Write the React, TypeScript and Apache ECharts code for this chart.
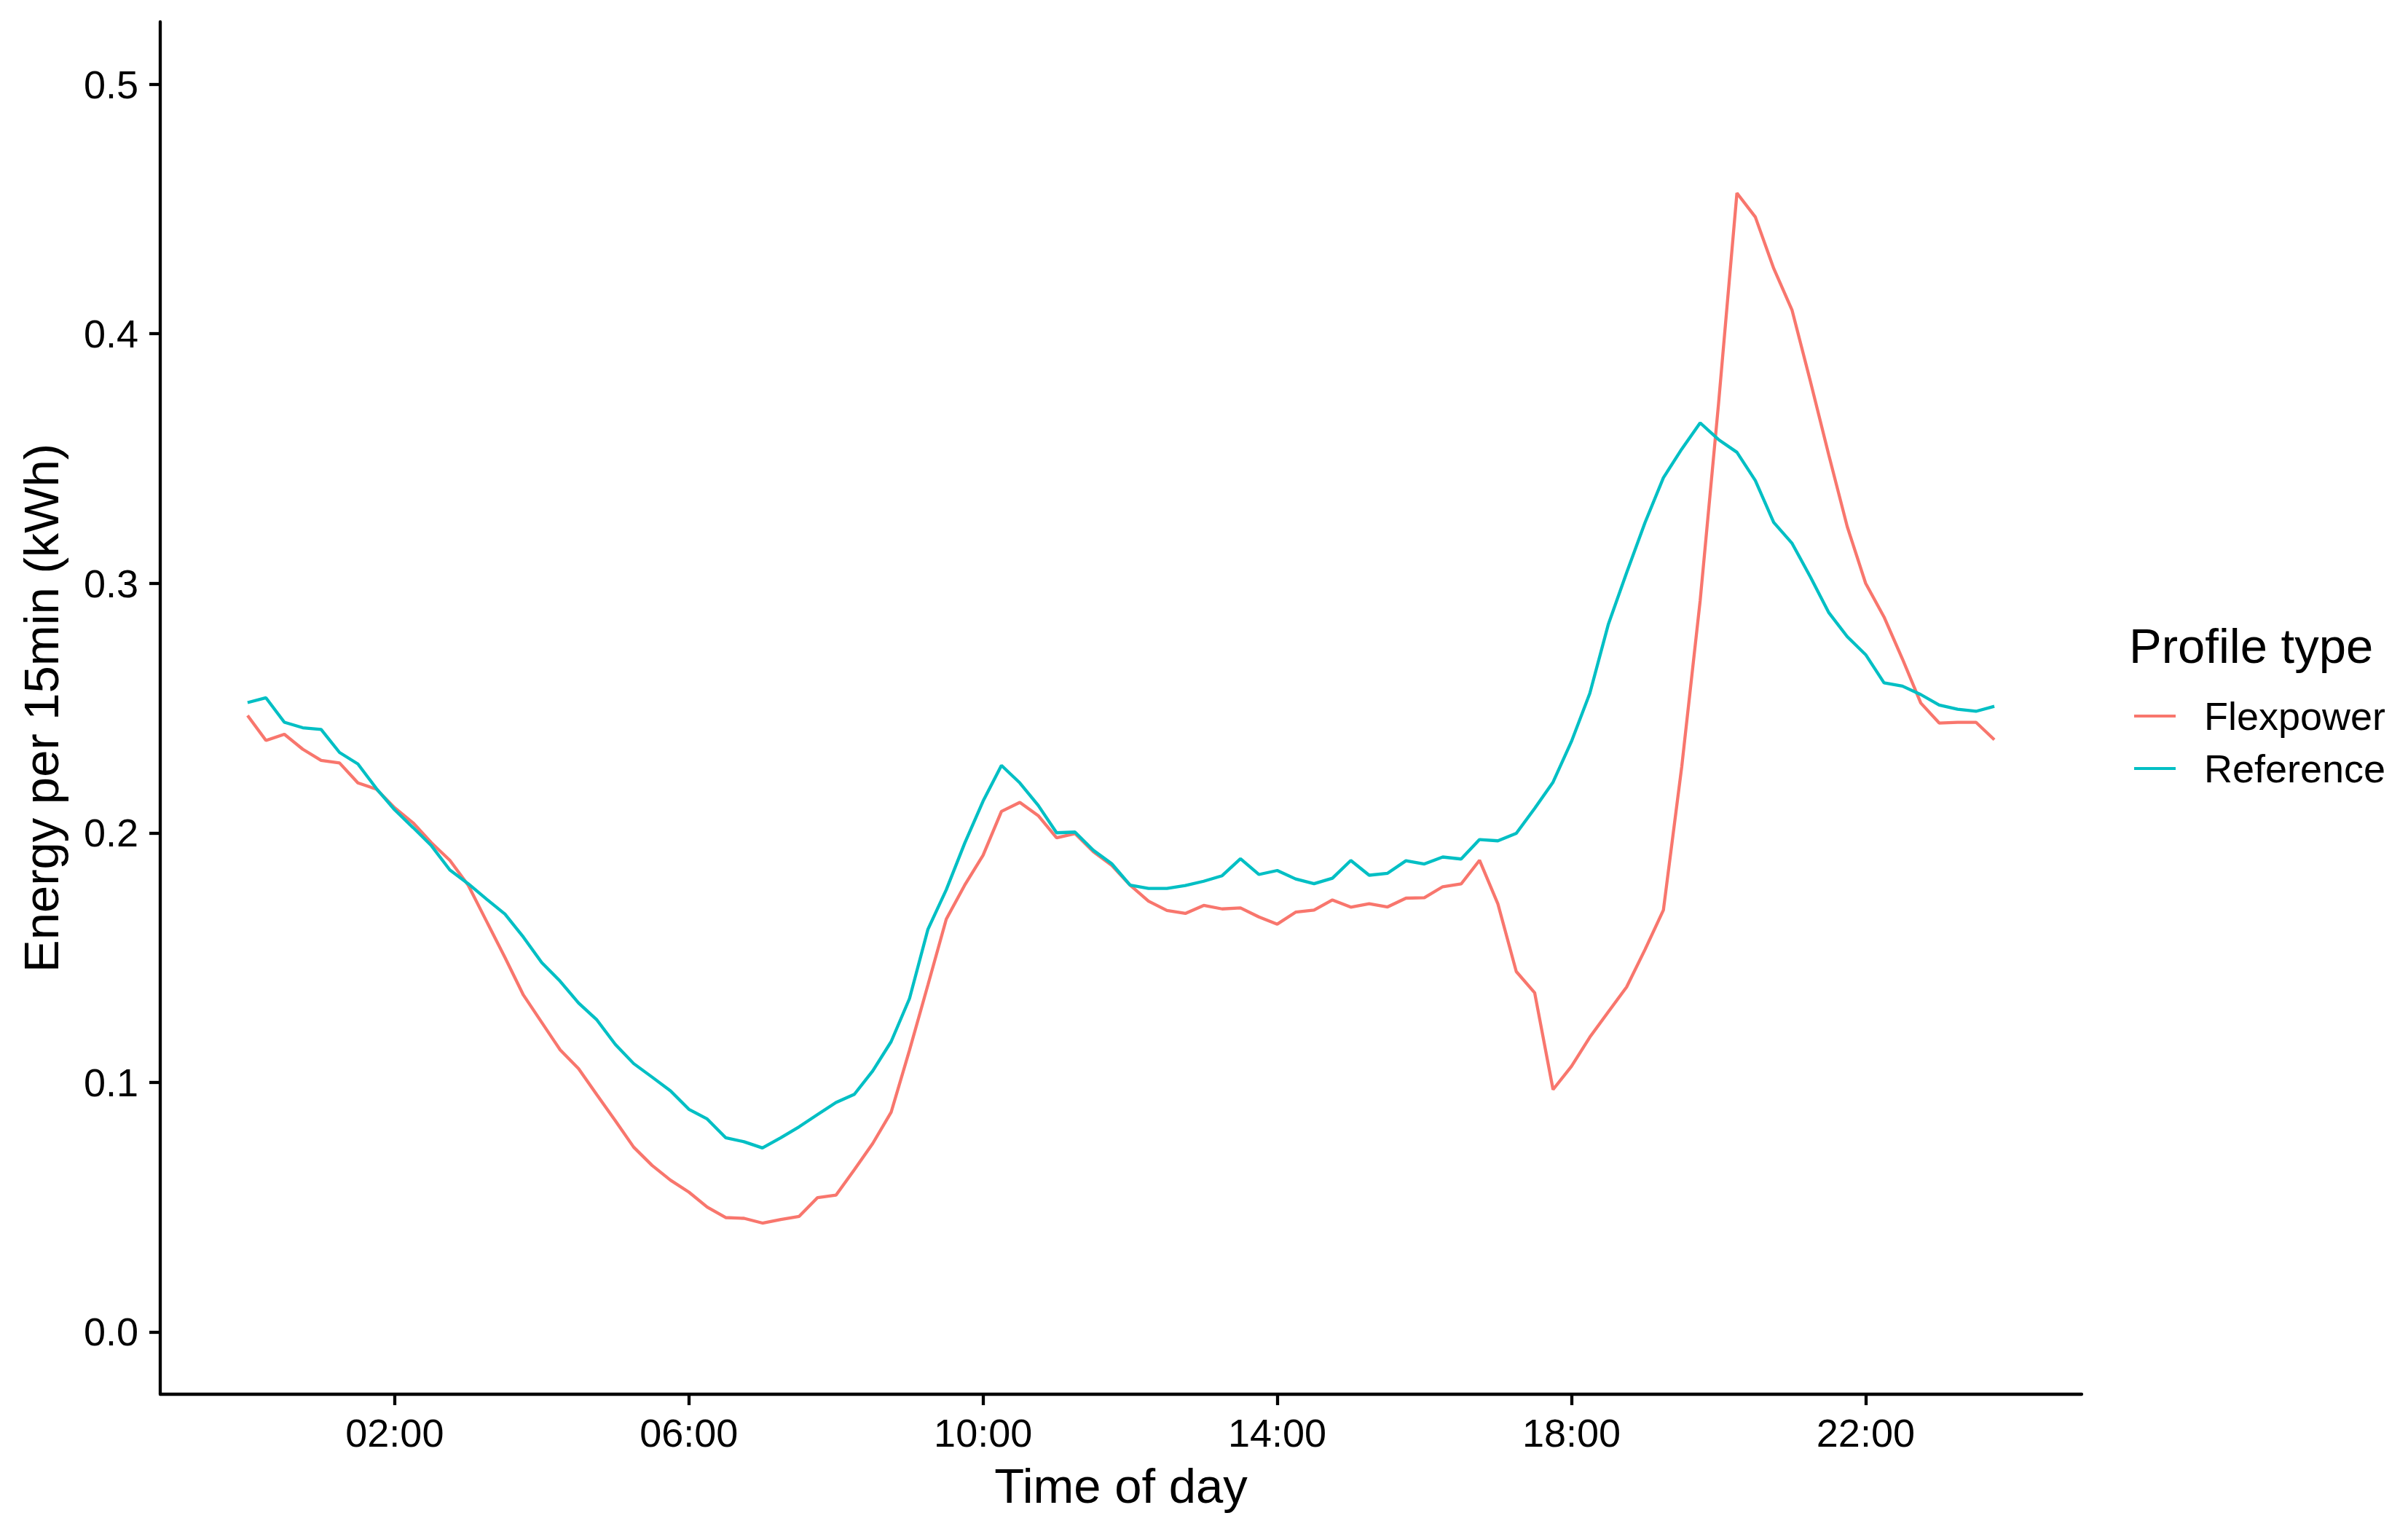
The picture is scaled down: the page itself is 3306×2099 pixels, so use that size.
import React, { useEffect, useRef } from "react";
import * as echarts from "echarts";

// Energy per 15-min slot (kWh), 96 slots from 00:00 to 23:45
const flexpower: number[] = [
  0.247, 0.237, 0.2395, 0.2335, 0.229, 0.228, 0.220, 0.2175, 0.210, 0.204, 0.196, 0.189,
  0.179, 0.1645, 0.150, 0.135, 0.124, 0.113, 0.1055, 0.095, 0.0846, 0.074, 0.0667, 0.0608,
  0.056, 0.050, 0.0458, 0.0455, 0.0436, 0.045, 0.0463, 0.0538, 0.0548, 0.065, 0.0755, 0.088,
  0.1129, 0.139, 0.1654, 0.179, 0.191, 0.2086, 0.2122, 0.2069, 0.198, 0.1997, 0.1924, 0.1869,
  0.179, 0.1726, 0.1689, 0.1677, 0.1709, 0.1695, 0.1699, 0.1663, 0.1634, 0.1682, 0.169, 0.1731,
  0.1702, 0.1716, 0.1703, 0.1738, 0.174, 0.1784, 0.1795, 0.189, 0.1715, 0.1444, 0.1359, 0.0971,
  0.1064, 0.1181, 0.1282, 0.1382, 0.1532, 0.169, 0.2266, 0.293, 0.372, 0.4564, 0.4468, 0.4262,
  0.4094, 0.3808, 0.3513, 0.3227, 0.300, 0.2865, 0.2697, 0.252, 0.244, 0.2443, 0.2443, 0.2373,
];

const reference: number[] = [
  0.2522, 0.2541, 0.2443, 0.2421, 0.2414, 0.2322, 0.2276, 0.2178, 0.2092, 0.2021, 0.1948, 0.1851,
  0.1796, 0.1734, 0.1674, 0.1582, 0.148, 0.1405, 0.1318, 0.125, 0.1152, 0.1075, 0.1021, 0.0966,
  0.0892, 0.0853, 0.0778, 0.0762, 0.0737, 0.0778, 0.0822, 0.0871, 0.0919, 0.0952, 0.1046, 0.1163,
  0.1336, 0.1613, 0.1772, 0.1958, 0.2127, 0.227, 0.220, 0.211, 0.200, 0.2003, 0.193, 0.1876,
  0.179, 0.1777, 0.1777, 0.1789, 0.1806, 0.1828, 0.1896, 0.1833, 0.1849, 0.1815, 0.1796, 0.1818,
  0.1889, 0.183, 0.1838, 0.1888, 0.1875, 0.1903, 0.1895, 0.1973, 0.1968, 0.1998, 0.2098, 0.2203,
  0.2366, 0.2559, 0.2834, 0.3042, 0.3243, 0.3423, 0.3538, 0.3643, 0.3576, 0.3525, 0.3412, 0.3244,
  0.316, 0.3025, 0.2882, 0.2786, 0.2714, 0.2601, 0.2588, 0.2554, 0.2512, 0.2495, 0.2487, 0.2507,
];

const seriesNames: string[] = ["Flexpower", "Reference"];
const seriesColors: string[] = ["#F8766D", "#00BFC4"];
const xTickHours: number[] = [2, 6, 10, 14, 18, 22];
const yTicks: number[] = [0, 0.1, 0.2, 0.3, 0.4, 0.5];
const slotHours = 0.25;

const FONT = "'Liberation Sans', Arial, Helvetica, sans-serif";

export default function App() {
  const ref = useRef<HTMLDivElement>(null);

  useEffect(() => {
    if (!ref.current) return;
    const chart = echarts.init(ref.current, null, { renderer: "svg" });

    const toPairs = (arr: number[]) => arr.map((v, i) => [i * slotHours, v]);
    const pad = (h: number) => (h < 10 ? "0" + h : "" + h) + ":00";

    const axisLine = { show: true, onZero: false, lineStyle: { color: "#000", width: 4.3 } };
    const axisTickBase = { show: true, length: 15, lineStyle: { color: "#000", width: 4.3 } };

    chart.setOption({
      animation: false,
      backgroundColor: "#ffffff",
      grid: {
        left: 220,
        top: 30,
        width: 2638,
        height: 1884,
        containLabel: false,
        outerBoundsMode: "none",
      },
      xAxis: {
        type: "value",
        min: -1.1875,
        max: 24.9375,
        splitLine: { show: false },
        axisLine,
        axisTick: { ...axisTickBase, customValues: xTickHours },
        axisLabel: {
          customValues: xTickHours,
          formatter: (v: number) => pad(Math.round(v)),
          fontSize: 54,
          fontFamily: FONT,
          color: "#000",
          margin: 26,
        },
      },
      yAxis: {
        type: "value",
        min: -0.025,
        max: 0.525,
        splitLine: { show: false },
        axisLine,
        axisTick: { ...axisTickBase, customValues: yTicks },
        axisLabel: {
          customValues: yTicks,
          formatter: (v: number) => v.toFixed(1),
          fontSize: 54,
          fontFamily: FONT,
          color: "#000",
          margin: 30,
        },
      },
      legend: {
        orient: "vertical",
        left: 2930,
        top: 956,
        padding: 0,
        itemWidth: 57,
        itemHeight: 4,
        itemGap: 18,
        icon: "rect",
        data: seriesNames,
        textStyle: {
          fontSize: 54,
          fontFamily: FONT,
          color: "#000",
          lineHeight: 54,
          padding: [0, 0, 0, 34],
        },
      },
      graphic: [
        {
          type: "text",
          x: 1539,
          y: 2039,
          style: {
            text: "Time of day",
            font: `67px ${FONT}`,
            fill: "#000",
            textAlign: "center",
            textVerticalAlign: "middle",
          },
        },
        {
          type: "text",
          x: 56,
          y: 972,
          rotation: Math.PI / 2,
          style: {
            text: "Energy per 15min (kWh)",
            font: `67px ${FONT}`,
            fill: "#000",
            textAlign: "center",
            textVerticalAlign: "middle",
          },
        },
        {
          type: "text",
          x: 2923,
          y: 886,
          style: {
            text: "Profile type",
            font: `67px ${FONT}`,
            fill: "#000",
            textAlign: "left",
            textVerticalAlign: "middle",
          },
        },
      ],
      series: [
        {
          name: seriesNames[0],
          type: "line",
          data: toPairs(flexpower),
          showSymbol: false,
          color: seriesColors[0],
          lineStyle: { color: seriesColors[0], width: 4.3 },
          emphasis: { disabled: true },
        },
        {
          name: seriesNames[1],
          type: "line",
          data: toPairs(reference),
          showSymbol: false,
          color: seriesColors[1],
          lineStyle: { color: seriesColors[1], width: 4.3 },
          emphasis: { disabled: true },
        },
      ],
    });

    return () => chart.dispose();
  }, []);

  return (
    <div
      ref={ref}
      style={{ position: "fixed", left: 0, top: 0, width: 3306, height: 2099, background: "#fff" }}
    />
  );
}
